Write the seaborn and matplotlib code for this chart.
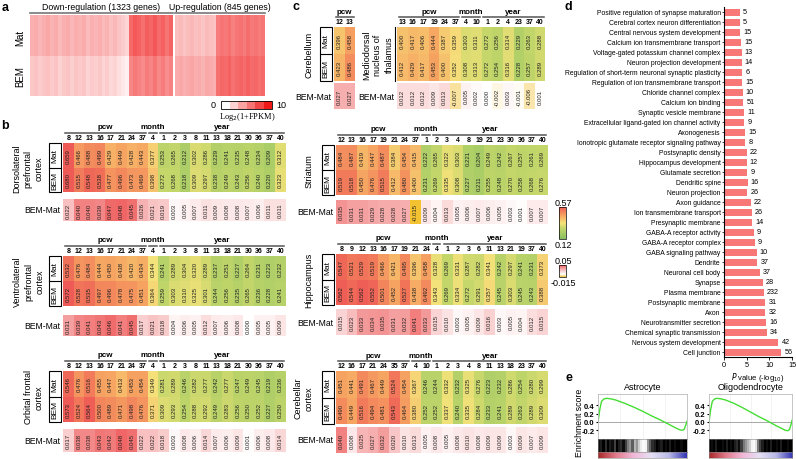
import numpy as np
import pandas as pd
import seaborn as sns
import matplotlib.pyplot as plt
import matplotlib.cm as cm
from matplotlib.colors import LinearSegmentedColormap, Normalize
from matplotlib.patches import Rectangle
from matplotlib.lines import Line2D

plt.rcParams['font.family'] = ['Liberation Sans', 'DejaVu Sans']

# ---------------- data ----------------
# panel a: expression stripes (log2(1+FPKM))
mat_down = [3.4, 3.6, 3.2, 3.5, 3.8, 3.3, 3.6, 3.0, 3.4, 3.7, 3.1, 3.5, 3.3, 3.6, 2.9, 3.4, 3.2, 3.5, 3.0, 3.3, 2.8, 3.1, 2.6, 2.2, 1.8,
            6.5, 7.2, 6.8, 6.2, 7.0, 6.6, 7.3, 6.4, 6.9, 6.0, 6.7]
bem_down = [2.4, 2.6, 2.2, 2.5, 2.7, 2.3, 2.6, 2.0, 2.4, 2.6, 2.1, 2.5, 2.3, 2.5, 1.9, 2.3, 2.1, 2.4, 1.9, 2.2, 1.7, 1.9, 1.4, 1.0, 0.7,
            5.2, 5.8, 5.5, 5.0, 5.7, 5.3, 5.9, 5.1, 5.6, 4.9, 5.4]
mat_up = [2.8, 3.0, 2.6, 2.9, 3.1, 2.7, 2.9, 2.5, 3.0, 2.8, 2.6,
          5.6, 6.0, 5.8, 6.2, 5.5, 5.9, 6.1, 5.7, 6.3, 5.8, 6.0, 5.6, 5.9]
bem_up = [3.6, 3.8, 3.4, 3.7, 3.9, 3.5, 3.7, 3.3, 3.8, 3.6, 3.4,
          6.2, 6.6, 6.4, 6.8, 6.1, 6.5, 6.7, 6.3, 6.9, 6.4, 6.6, 6.2, 6.5]

# panel b / c: brain regions
ctx_cols = [8, 12, 13, 16, 17, 21, 24, 37, 4, 1, 2, 3, 8, 11, 13, 18, 21, 30, 36, 37, 40]
ctx_groups = [('pcw', 0, 8), ('month', 8, 1), ('year', 9, 12)]

dlpfc_mat = [0.659, 0.466, 0.488, 0.499, 0.429, 0.449, 0.428, 0.443, 0.377, 0.253, 0.265, 0.212, 0.302, 0.286, 0.229, 0.241, 0.235, 0.248, 0.234, 0.209, 0.312]
dlpfc_bem = [0.680, 0.515, 0.548, 0.538, 0.477, 0.496, 0.473, 0.469, 0.398, 0.272, 0.268, 0.218, 0.309, 0.297, 0.238, 0.249, 0.243, 0.256, 0.240, 0.220, 0.323]
dlpfc_diff = [0.022, 0.040, 0.040, 0.039, 0.047, 0.048, 0.045, 0.026, 0.021, 0.019, 0.003, 0.005, 0.007, 0.011, 0.009, 0.008, 0.008, 0.007, 0.006, 0.011, 0.011]

vlpfc_mat = [0.532, 0.476, 0.484, 0.444, 0.450, 0.438, 0.420, 0.434, 0.344, 0.241, 0.289, 0.304, 0.320, 0.289, 0.237, 0.251, 0.227, 0.264, 0.231, 0.223, 0.232]
vlpfc_bem = [0.572, 0.528, 0.535, 0.497, 0.496, 0.478, 0.475, 0.451, 0.364, 0.259, 0.303, 0.310, 0.325, 0.301, 0.244, 0.256, 0.235, 0.265, 0.236, 0.228, 0.241]
vlpfc_diff = [0.031, 0.039, 0.041, 0.043, 0.046, 0.041, 0.045, 0.017, 0.021, 0.018, 0.004, 0.006, 0.005, 0.012, 0.007, 0.006, 0.008, 0.000, 0.005, 0.005, 0.009]

ofc_mat = [0.546, 0.476, 0.516, 0.455, 0.447, 0.413, 0.453, 0.454, 0.349, 0.281, 0.289, 0.246, 0.282, 0.277, 0.242, 0.277, 0.247, 0.249, 0.245, 0.219, 0.236]
ofc_bem = [0.573, 0.524, 0.564, 0.500, 0.489, 0.471, 0.498, 0.476, 0.371, 0.309, 0.293, 0.254, 0.288, 0.292, 0.249, 0.283, 0.256, 0.250, 0.252, 0.227, 0.250]
ofc_diff = [0.017, 0.038, 0.038, 0.043, 0.042, 0.048, 0.045, 0.022, 0.022, 0.018, 0.003, 0.008, 0.006, 0.014, 0.007, 0.006, 0.009, 0.001, 0.006, 0.008, 0.014]

str_cols = [12, 13, 16, 17, 19, 21, 24, 37, 1, 2, 3, 4, 8, 19, 21, 23, 30, 36, 37, 40]
str_groups = [('pcw', 0, 8), ('month', 8, 1), ('year', 9, 11)]
str_mat = [0.484, 0.487, 0.419, 0.447, 0.487, 0.384, 0.454, 0.415, 0.222, 0.265, 0.322, 0.303, 0.221, 0.204, 0.249, 0.242, 0.267, 0.257, 0.261, 0.269]
str_bem = [0.519, 0.518, 0.450, 0.476, 0.515, 0.412, 0.480, 0.400, 0.231, 0.269, 0.335, 0.308, 0.227, 0.211, 0.255, 0.248, 0.270, 0.258, 0.268, 0.276]
str_diff = [0.035, 0.031, 0.031, 0.029, 0.028, 0.028, 0.027, -0.015, 0.009, 0.004, 0.013, 0.005, 0.006, 0.007, 0.006, 0.005, 0.003, 0.001, 0.007, 0.007]

hip_cols = [8, 9, 12, 13, 16, 17, 19, 21, 24, 4, 1, 2, 3, 6, 11, 13, 21, 19, 37, 40]
hip_groups = [('pcw', 0, 9), ('month', 9, 1), ('year', 10, 10)]
hip_mat = [0.547, 0.521, 0.529, 0.519, 0.466, 0.421, 0.495, 0.396, 0.458, 0.328, 0.269, 0.331, 0.287, 0.282, 0.341, 0.242, 0.297, 0.241, 0.231, 0.373]
hip_bem = [0.562, 0.544, 0.562, 0.552, 0.501, 0.452, 0.527, 0.438, 0.492, 0.343, 0.269, 0.334, 0.272, 0.291, 0.357, 0.245, 0.303, 0.245, 0.243, 0.388]
hip_diff = [0.015, 0.023, 0.033, 0.034, 0.035, 0.031, 0.032, 0.041, 0.033, 0.015, 0.010, 0.003, 0.005, 0.009, 0.016, 0.003, 0.005, 0.004, 0.012, 0.015]

cbc_cols = [12, 16, 17, 21, 24, 35, 37, 4, 10, 1, 2, 3, 4, 8, 11, 13, 18, 23, 37, 40]
cbc_groups = [('pcw', 0, 7), ('month', 7, 2), ('year', 9, 11)]
cbc_mat = [0.451, 0.441, 0.491, 0.467, 0.449, 0.524, 0.454, 0.367, 0.246, 0.244, 0.332, 0.232, 0.325, 0.276, 0.223, 0.232, 0.286, 0.254, 0.280, 0.299]
cbc_bem = [0.490, 0.449, 0.516, 0.494, 0.481, 0.543, 0.464, 0.380, 0.252, 0.252, 0.337, 0.240, 0.335, 0.284, 0.233, 0.241, 0.289, 0.263, 0.289, 0.309]
cbc_diff = [0.040, 0.008, 0.025, 0.027, 0.032, 0.020, 0.010, 0.013, 0.005, 0.008, 0.005, 0.008, 0.010, 0.008, 0.009, 0.009, 0.003, 0.009, 0.007, 0.009]

cb_cols = [12, 13]
cb_groups = [('pcw', 0, 2)]
cb_mat = [0.396, 0.458]
cb_bem = [0.423, 0.486]
cb_diff = [0.027, 0.027]

md_cols = [13, 16, 17, 19, 24, 37, 4, 10, 1, 2, 4, 23, 37, 40]
md_groups = [('pcw', 0, 6), ('month', 6, 2), ('year', 8, 6)]
md_mat = [0.400, 0.417, 0.406, 0.444, 0.387, 0.359, 0.303, 0.311, 0.272, 0.256, 0.314, 0.229, 0.263, 0.288]
md_bem = [0.412, 0.429, 0.417, 0.453, 0.400, 0.352, 0.308, 0.313, 0.272, 0.254, 0.316, 0.228, 0.257, 0.289]
md_diff = [0.012, 0.012, 0.012, 0.009, 0.013, -0.007, 0.005, 0.002, 0.000, -0.002, 0.003, -0.001, -0.006, 0.001]

# panel d: GO terms
terms = ['Positive regulation of synapse maturation', 'Cerebral cortex neuron differentiation',
         'Central nervous system development', 'Calcium ion transmembrane transport',
         'Voltage-gated potassium channel complex', 'Neuron projection development',
         'Regulation of short-term neuronal synaptic plasticity', 'Regulation of ion transmembrane transport',
         'Chloride channel complex', 'Calcium ion binding', 'Synaptic vesicle membrane',
         'Extracellular ligand-gated ion channel activity', 'Axonogenesis',
         'Ionotropic glutamate receptor signaling pathway', 'Postsynaptic density', 'Hippocampus development',
         'Glutamate secretion', 'Dendritic spine', 'Neuron projection', 'Axon guidance',
         'Ion transmembrane transport', 'Presynaptic membrane', 'GABA-A receptor activity',
         'GABA-A receptor complex', 'GABA signaling pathway', 'Dendrite', 'Neuronal cell body', 'Synapse',
         'Plasma membrane', 'Postsynaptic membrane', 'Axon', 'Neurotransmitter secretion',
         'Chemical synaptic transmission', 'Nervous system development', 'Cell junction']
pvals = [3.5, 3.5, 3.6, 3.7, 3.9, 3.9, 4.0, 4.0, 4.1, 4.3, 4.4, 4.5, 4.6, 4.7, 5.0, 5.0, 5.1, 5.2, 5.1,
         5.9, 6.1, 6.2, 6.6, 6.8, 7.2, 7.3, 7.9, 8.6, 8.8, 9.1, 9.1, 9.3, 9.4, 12.0, 12.6]
counts = [5, 5, 15, 15, 13, 14, 6, 15, 10, 51, 11, 9, 15, 8, 22, 12, 9, 16, 26, 22, 26, 14, 9, 9, 10,
          37, 37, 28, 232, 31, 32, 16, 34, 42, 56]

# panel e: GSEA running enrichment score
astro_x = [0, 0.02, 0.04, 0.07, 0.1, 0.14, 0.2, 0.3, 0.4, 0.5, 0.6, 0.7, 0.8, 0.87, 0.92, 0.95, 0.97, 0.99, 1.0]
astro_es = [0, 0.3, 0.5, 0.56, 0.57, 0.56, 0.53, 0.45, 0.36, 0.26, 0.15, 0.05, -0.06, -0.14, -0.19, -0.2, -0.17, -0.05, 0.02]
oligo_x = [0, 0.02, 0.04, 0.07, 0.1, 0.14, 0.2, 0.3, 0.4, 0.5, 0.6, 0.7, 0.8, 0.87, 0.92, 0.95, 0.97, 0.99, 1.0]
oligo_es = [0, 0.3, 0.5, 0.56, 0.57, 0.56, 0.53, 0.45, 0.35, 0.24, 0.13, 0.03, -0.08, -0.15, -0.2, -0.21, -0.18, -0.05, 0.04]
astro_hits = [0.95, 0.9, 1, 0.85, 1, 0.9, 0.95, 0.8, 1, 0.9, 0.85, 0.95, 0.8, 0.6, 0.5, 0.7, 0.4, 0.5,
              0.3, 0.15, 0.05, 0.1, 0.5, 0.7, 0.85, 0.9, 1, 0.95, 0.9, 1, 0.95, 1, 0.9, 1, 0.95, 1, 1, 0.95, 1, 1]
oligo_hits = [1, 0.95, 1, 0.9, 1, 1, 0.95, 1, 0.9, 1, 0.95, 1, 0.9, 0.85, 0.95, 0.8, 0.6, 0.5, 0.4, 0.3,
              0.1, 0.05, 0.2, 0.6, 0.8, 0.9, 1, 0.95, 1, 0.9, 1, 1, 0.95, 1, 0.9, 1, 1, 0.95, 1, 1]

# ---------------- layout helpers ----------------
W, H = 796, 460
fig = plt.figure(figsize=(W / 100, H / 100), dpi=100)
CW = 10.6


def box(x0, y0, x1, y1):
    return fig.add_axes([x0 / W, 1 - y1 / H, (x1 - x0) / W, (y1 - y0) / H])


def txt(x, y, s, **kw):
    kw.setdefault('ha', 'center')
    kw.setdefault('va', 'center')
    fig.text(x / W, 1 - y / H, s, **kw)


def seg(x0, y0, x1, y1, **kw):
    fig.add_artist(Line2D([x0 / W, x1 / W], [1 - y0 / H, 1 - y1 / H], transform=fig.transFigure, **kw))


lvl_cmap = LinearSegmentedColormap.from_list('lvl', [(0, '#86bf62'), (0.33, '#c3d66a'), (0.5, '#f5e27a'),
                                                     (0.72, '#f6a862'), (1, '#ee5a55')])
diff_cmap = LinearSegmentedColormap.from_list('dif', [(0, '#f2c230'), (0.23, '#ffffff'), (0.55, '#f8c4c4'),
                                                      (1, '#ef5f5f')])
a_cmap = LinearSegmentedColormap.from_list('a', ['#ffffff', '#f01818'])
ann = dict(rotation=90, fontsize=4.3, color='#222222')


def block(x0, top, cols, groups, mat, bem, diff, name, name_x, h2=50, gap=7, hd=22, boxed=True):
    n = len(cols)
    x1 = x0 + n * CW
    ax = box(x0, top, x1, top + h2)
    df = pd.DataFrame([mat, bem], index=['Mat', 'BEM'])
    sns.heatmap(df, ax=ax, cmap=lvl_cmap, vmin=0.12, vmax=0.57, cbar=False, annot=True, fmt='.3f',
                annot_kws=ann, xticklabels=cols, yticklabels=False)
    ax.xaxis.tick_top()
    ax.tick_params(axis='x', length=0, pad=1.2, labelsize=5, rotation=0)
    for t in ax.get_xticklabels():
        t.set_fontweight('bold')
    ax.set_xlabel('')
    ax.set_ylabel('')
    tr = ax.get_xaxis_transform()
    for g, s, c in groups:
        ax.plot([s + 0.15, s + c - 0.15], [1 + 10 / h2] * 2, transform=tr, clip_on=False, color='#555555', lw=1.1)
        ax.text(s + c / 2, 1 + 16 / h2, g, transform=tr, ha='center', va='center', fontsize=5.8, fontweight='bold')
    axd = box(x0, top + h2 + gap, x1, top + h2 + gap + hd)
    sns.heatmap(pd.DataFrame([diff]), ax=axd, cmap=diff_cmap, vmin=-0.015, vmax=0.05, cbar=False, annot=True,
                fmt='.3f', annot_kws=ann, xticklabels=False, yticklabels=False)
    txt(x0 - 3, top + h2 + gap + hd / 2, 'BEM-Mat', ha='right', fontsize=6.2)
    if boxed:
        fig.add_artist(Rectangle(((x0 - 14) / W, 1 - (top + h2) / H), 12 / W, h2 / H, transform=fig.transFigure,
                                 fill=False, lw=0.8, ec='k'))
        seg(x0 - 14, top + h2 / 2, x0 - 2, top + h2 / 2, color='k', lw=0.8)
        txt(x0 - 8, top + h2 / 4, 'Mat', rotation=90, fontsize=6)
        txt(x0 - 8, top + 3 * h2 / 4, 'BEM', rotation=90, fontsize=6)
    else:
        seg(x0 - 2, top, x0 - 2, top + h2, color='k', lw=0.8)
    txt(name_x, top + h2 / 2, name, rotation=90, fontsize=6.5, linespacing=1.3)


# ---------------- panel a ----------------
ax_dn = box(30, 16, 173, 97)
sns.heatmap(pd.DataFrame([mat_down, bem_down], index=['Mat', 'BEM']), ax=ax_dn, cmap=a_cmap, vmin=0, vmax=10,
            cbar=False, xticklabels=False, yticklabels=False)
ax_up = box(175, 16, 265, 97)
sns.heatmap(pd.DataFrame([mat_up, bem_up], index=['Mat', 'BEM']), ax=ax_up, cmap=a_cmap, vmin=0, vmax=10,
            cbar=False, xticklabels=False, yticklabels=False)
txt(20, 38, 'Mat', rotation=90, fontsize=7)
txt(20, 77, 'BEM', rotation=90, fontsize=7)
txt(101, 7, 'Down-regulation (1323 genes)', fontsize=6.3)
seg(30, 14, 173, 14, color='#777777', lw=1.2)
txt(220, 7, 'Up-regulation (845 genes)', fontsize=6.3)
seg(175, 14, 265, 14, color='#777777', lw=1.2)
cax = box(221, 102, 272, 110)
cb = fig.colorbar(cm.ScalarMappable(norm=Normalize(0, 10), cmap=a_cmap.resampled(6)), cax=cax,
                  orientation='horizontal')
cb.set_ticks([])
cb.outline.set_linewidth(0.6)
txt(216, 106, '0', fontsize=6.5, ha='right')
txt(276, 106, '10', fontsize=6.5, ha='left')
txt(247, 117, 'Log$_2$(1+FPKM)', fontsize=6, family='Liberation Serif')

# ---------------- panel b ----------------
block(63, 144, ctx_cols, ctx_groups, dlpfc_mat, dlpfc_bem, dlpfc_diff,
      'Dorsolateral\nprefrontal\ncortex', 28, h2=49, gap=7, hd=22)
block(63, 257, ctx_cols, ctx_groups, vlpfc_mat, vlpfc_bem, vlpfc_diff,
      'Ventrolateral\nprefrontal\ncortex', 29, h2=50, gap=9, hd=21)
block(63, 372, ctx_cols, ctx_groups, ofc_mat, ofc_bem, ofc_diff,
      'Orbital frontal\ncortex', 34, h2=51, gap=7, hd=23)
block(336, 146, str_cols, str_groups, str_mat, str_bem, str_diff, 'Striatum', 309, h2=50, gap=5, hd=24)
block(336, 255, hip_cols, hip_groups, hip_mat, hip_bem, hip_diff, 'Hippocampus', 309, h2=51, gap=4, hd=26)
block(336, 372, cbc_cols, cbc_groups, cbc_mat, cbc_bem, cbc_diff, 'Cerebellar\ncortex', 304, h2=53, gap=3, hd=26)

# ---------------- panel c ----------------
block(334, 28, cb_cols, cb_groups, cb_mat, cb_bem, cb_diff, 'Cerebellum', 309, h2=54, gap=2, hd=26)
block(397, 28, md_cols, md_groups, md_mat, md_bem, md_diff, 'Mediodorsal\nnucleus of\nthalamus', 378,
      h2=54, gap=2, hd=26, boxed=False)

# colour keys for b/c
cax1 = box(559, 208, 566, 240)
cb1 = fig.colorbar(cm.ScalarMappable(norm=Normalize(0.12, 0.57), cmap=lvl_cmap), cax=cax1)
cb1.set_ticks([])
cb1.outline.set_linewidth(0.5)
txt(563, 203, '0.57', fontsize=6.5)
txt(563, 246, '0.12', fontsize=6.5)
cax2 = box(559, 266, 566, 278)
cb2 = fig.colorbar(cm.ScalarMappable(norm=Normalize(-0.015, 0.05), cmap=diff_cmap), cax=cax2)
cb2.set_ticks([])
cb2.outline.set_linewidth(0.5)
txt(563, 261, '0.05', fontsize=6.5)
txt(563, 283, '-0.015', fontsize=6.5)

# ---------------- panel d ----------------
axd = box(724, 8, 792, 358)
sns.barplot(x=pvals, y=terms, ax=axd, color='#f87878', orient='h', width=0.7, saturation=1)
for i, (v, c) in enumerate(zip(pvals, counts)):
    axd.text(v + 0.7, i, str(c), va='center', ha='left', fontsize=5.2)
axd.set_xlim(0, 15)
axd.set_xticks([0, 5, 10, 15])
axd.tick_params(axis='y', length=1.5, width=0.5, pad=1, labelsize=4.9)
axd.tick_params(axis='x', length=2, width=0.6, pad=1, labelsize=5.3)
axd.set_xlabel(r'$\it{P}$ value (-log$_{10}$)', fontsize=5.5, labelpad=1)
sns.despine(ax=axd)
for sp in ['left', 'bottom']:
    axd.spines[sp].set_linewidth(0.8)

# ---------------- panel e ----------------
grad_cmap = LinearSegmentedColormap.from_list('g', ['#a82828', '#e07a8a', '#f2b8d8', '#e6e0f4', '#b8b8e8', '#3434b4'])
for title, xs, es, hits, x0, x1 in [('Astrocyte', astro_x, astro_es, astro_hits, 598, 687),
                                    ('Oligodendrocyte', oligo_x, oligo_es, oligo_hits, 709, 792)]:
    ax = box(x0, 395, x1, 440)
    ax.axhline(0, color='#9a9a9a', lw=0.6)
    sns.lineplot(x=xs, y=es, ax=ax, color='#44dd33', lw=1)
    ax.set_xlim(0, 1)
    ax.set_ylim(-0.41, 0.675)
    ax.set_xticks([0.25, 0.5, 0.75])
    ax.set_xticklabels([])
    ax.grid(axis='x', color='#eeeeee', lw=0.5)
    ax.set_yticks([-0.2, 0, 0.2, 0.4])
    ax.set_yticklabels(['-0.2', '0.0', '0.2', '0.4'], fontweight='bold')
    ax.tick_params(axis='y', length=1.5, pad=1, labelsize=5.5)
    ax.tick_params(axis='x', length=0)
    for sp in ax.spines.values():
        sp.set_color('#bbbbbb')
        sp.set_linewidth(0.6)
    axb = box(x0, 440, x1, 453)
    axb.imshow([hits], aspect='auto', cmap='Greys', vmin=0, vmax=1, interpolation='nearest')
    axb.set_xticks([])
    axb.set_yticks([])
    axg = box(x0, 453, x1, 459)
    axg.imshow([np.linspace(0, 1, 256)], aspect='auto', cmap=grad_cmap)
    axg.set_xticks([])
    axg.set_yticks([])
    for a in (axb, axg):
        for sp in a.spines.values():
            sp.set_linewidth(0.4)
            sp.set_color('#888888')
    txt((x0 + x1) / 2, 388, title, fontsize=6.5)
txt(580, 423, 'Enrichment score', rotation=90, fontsize=6.3)

# panel letters
for s, x, y in [('a', 5, 8), ('b', 5, 126), ('c', 296, 7), ('d', 568, 7), ('e', 569, 378)]:
    txt(x, y, s, fontsize=9, fontweight='bold')

fig.savefig('out.png', dpi=100)
